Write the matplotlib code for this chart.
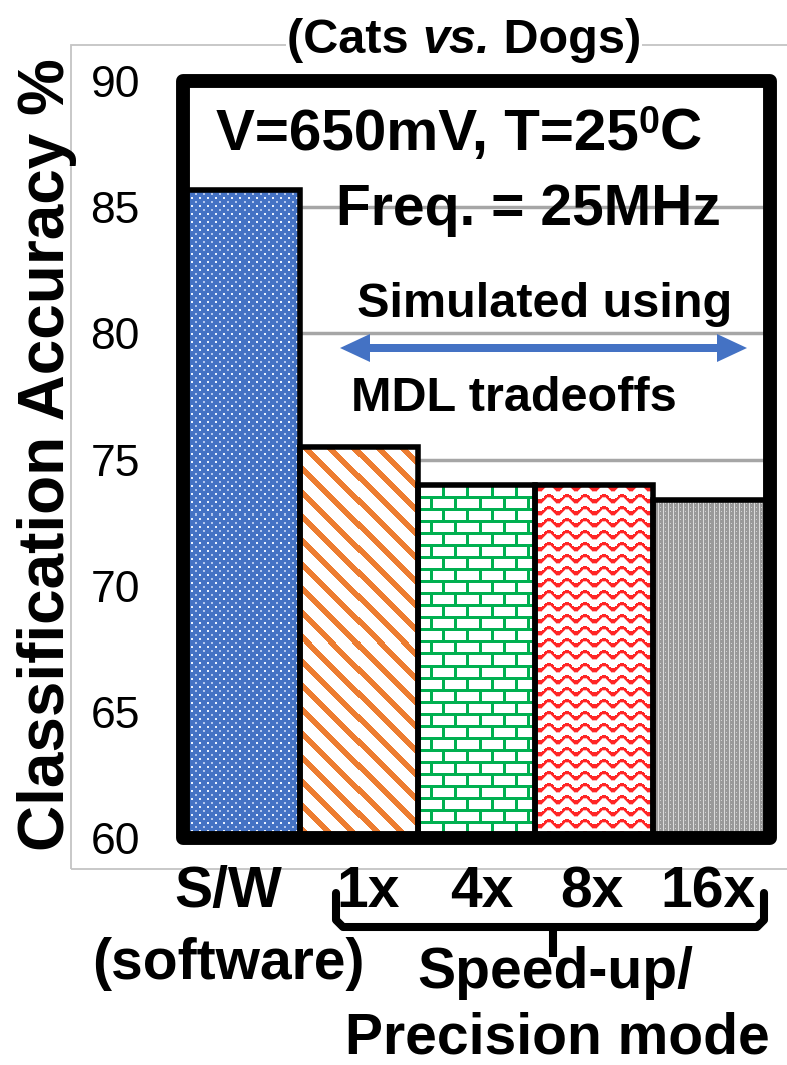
import numpy as np
import matplotlib
matplotlib.use("Agg")
import matplotlib.pyplot as plt
from matplotlib.patches import Rectangle, Polygon
from matplotlib.lines import Line2D
from matplotlib.transforms import blended_transform_factory, ScaledTranslation

# ---- data -------------------------------------------------------------
categories = ["S/W", "1x", "4x", "8x", "16x"]
accuracy = [85.7, 75.5, 74.0, 74.0, 73.4]
yticks = [60, 65, 70, 75, 80, 85, 90]
ylim = (60, 90)

plt.rcParams['font.family'] = ['Liberation Sans', 'DejaVu Sans']

W, H = 787, 1065
fig = plt.figure(figsize=(W / 100, H / 100), dpi=100)


def fx(px):
    return px / W


def fy(py):
    return 1 - py / H


# light outer chart-area border
fig.add_artist(Rectangle((fx(71), fy(869)), 2.0, fy(45) - fy(869),
                         transform=fig.transFigure, fill=False,
                         edgecolor='#C4C4C4', lw=1.3, zorder=0))

ax = fig.add_axes([fx(183), fy(838), (770 - 183) / W, (838 - 81) / H])
ax.set_facecolor('none')
x = np.arange(len(categories))
ax.set_xlim(-0.5, len(categories) - 0.5)
ax.set_ylim(*ylim)
ax.set_yticks(yticks)
ax.set_yticklabels([str(t) for t in yticks], fontsize=32)
ax.tick_params(axis='y', length=0, pad=31)
ax.set_xticks([])
for s in ax.spines.values():
    s.set_visible(False)
ax.set_axisbelow(True)
ax.yaxis.grid(True, color='#A6A6A6', lw=2.5)

# ---- fill textures ------------------------------------------------------
def tex_dots(ny, nx):
    img = np.empty((ny, nx, 3))
    img[:] = np.array([68, 114, 196]) / 255
    ii, jj = np.mgrid[0:ny, 0:nx]
    m1 = (ii % 8 < 2) & (jj % 8 < 2)
    m2 = ((ii + 4) % 8 < 2) & ((jj + 4) % 8 < 2)
    img[m1] = [0.92, 0.95, 1.0]
    img[m2] = [0.70, 0.78, 0.93]
    return img


def tex_stripes(ny, nx):
    img = np.ones((ny, nx, 3))
    ii, jj = np.mgrid[0:ny, 0:nx]
    m = ((jj - ii) % 24) < 8
    img[m] = np.array([237, 125, 49]) / 255
    return img


def tex_bricks(ny, nx):
    img = np.ones((ny, nx, 3))
    ii, jj = np.mgrid[0:ny, 0:nx]
    row = ii // 12
    m = (ii % 12 < 3) | (((jj + (row % 2) * 12) % 24) < 3)
    img[m] = np.array([0, 176, 80]) / 255
    return img


def tex_waves(ny, nx):
    img = np.ones((ny, nx, 3))
    ii, jj = np.mgrid[0:ny, 0:nx]
    d = (ii - 3.0 * np.sin(2 * np.pi * jj / 18.0)) % 12
    m = d < 3.5
    img[m] = [1.0, 0.15, 0.15]
    img[(d >= 3.5) & (d < 4.5)] = [1.0, 0.7, 0.7]
    return img


def tex_weave(ny, nx):
    img = np.empty((ny, nx, 3))
    img[:] = 0.60
    ii, jj = np.mgrid[0:ny, 0:nx]
    img[(jj % 5) == 0] = 0.86
    img[((ii % 4) == 0) & ((jj % 5) == 2)] = 0.82
    return img


textures = [tex_dots, tex_stripes, tex_bricks, tex_waves, tex_weave]

base = ax.bar(x, accuracy, width=1.0, color='white', edgecolor='none', zorder=2)
for rect, tex in zip(base, textures):
    x0, x1 = rect.get_x(), rect.get_x() + rect.get_width()
    y0, y1 = max(rect.get_y(), ylim[0]), rect.get_y() + rect.get_height()
    p0 = ax.transData.transform((x0, y0))
    p1 = ax.transData.transform((x1, y1))
    nx = int(round(abs(p1[0] - p0[0])))
    ny = int(round(abs(p1[1] - p0[1])))
    im = ax.imshow(tex(ny, nx), extent=(x0, x1, y0, y1), origin='upper',
                   aspect='auto', interpolation='nearest', zorder=2.5)
    im.set_clip_path(rect)
ax.set_xlim(-0.5, len(categories) - 0.5)
ax.set_ylim(*ylim)

ax.bar(x, accuracy, width=1.0, fill=False, edgecolor='black', lw=4, zorder=3)

# heavy plot frame
ax.add_patch(Rectangle((0, 0), 1, 1, transform=ax.transAxes, fill=False,
                       lw=10, edgecolor='black', joinstyle='round',
                       clip_on=False, zorder=6))

# ---- annotations inside the plot --------------------------------------
bold = dict(fontweight='bold', color='black')

t1 = fig.text(fx(216), fy(150), "V=650mV, T=25", fontsize=42, ha='left',
              va='baseline', **bold)
t2 = ax.annotate("0", xy=(1.0, fy(133)), xycoords=(t1, 'figure fraction'),
                 fontsize=27, ha='left', va='baseline', **bold)
ax.annotate("C", xy=(1.0, fy(150)), xycoords=(t2, 'figure fraction'),
            fontsize=42, ha='left', va='baseline', **bold)

fig.text(fx(528), fy(225), "Freq. = 25MHz", fontsize=41, ha='center',
         va='baseline', **bold)
fig.text(fx(545), fy(317), "Simulated using", fontsize=35, ha='center',
         va='baseline', **bold)
fig.text(fx(514), fy(411), "MDL tradeoffs", fontsize=35, ha='center',
         va='baseline', **bold)

# double-headed arrow
arrow_px = [(340, 348), (370, 334), (370, 344), (717, 344), (717, 334),
            (747, 348), (717, 362), (717, 352), (370, 352), (370, 362)]
fig.add_artist(Polygon([(fx(a), fy(b)) for a, b in arrow_px], closed=True,
                       transform=fig.transFigure, facecolor='#4472C4',
                       edgecolor='none', zorder=7))

# ---- title -------------------------------------------------------------
wbox = dict(facecolor='white', edgecolor='none', pad=1)
tt1 = fig.text(fx(287), fy(53), "(Cats ", fontsize=35, ha='left',
               va='baseline', bbox=wbox, **bold)
tt2 = ax.annotate("vs.", xy=(1.0, fy(53)), xycoords=(tt1, 'figure fraction'),
                  fontsize=35, fontstyle='italic', ha='left', va='baseline',
                  bbox=wbox, **bold)
ax.annotate(" Dogs)", xy=(1.0, fy(53)), xycoords=(tt2, 'figure fraction'),
            fontsize=35, ha='left', va='baseline', bbox=wbox, **bold)

# ---- axis labels -------------------------------------------------------
fig.text(fx(47), fy(455), "Classification Accuracy %", fontsize=46,
         rotation=90, ha='center', va='center', **bold)

xlab_tr = blended_transform_factory(ax.transData, fig.transFigure)
label_shift = [-13, 9, 5, -2, -3]
for xi, lab, dx in zip(x, categories, label_shift):
    tr = xlab_tr + ScaledTranslation(dx / 100, 0, fig.dpi_scale_trans)
    ax.text(xi, fy(907), lab, transform=tr, fontsize=41, ha='center',
            va='baseline', clip_on=False, **bold)

fig.text(fx(228), fy(979), "(software)", fontsize=41, ha='center',
         va='baseline', **bold)
fig.text(fx(555), fy(988), "Speed-up/", fontsize=41, ha='center',
         va='baseline', **bold)
fig.text(fx(557), fy(1054), "Precision mode", fontsize=41, ha='center',
         va='baseline', **bold)

# brace grouping the speed-up modes
brace_px = [(336, 893), (336, 920), (343, 927), (757, 927), (764, 920),
            (764, 893)]
fig.add_artist(Line2D([fx(a) for a, b in brace_px], [fy(b) for a, b in brace_px],
                      transform=fig.transFigure, color='black', lw=5.8,
                      solid_joinstyle='round', solid_capstyle='round'))
fig.add_artist(Line2D([fx(553), fx(553)], [fy(927), fy(957)],
                      transform=fig.transFigure, color='black', lw=5.8,
                      solid_capstyle='butt'))

fig.savefig("out.png", dpi=100)
